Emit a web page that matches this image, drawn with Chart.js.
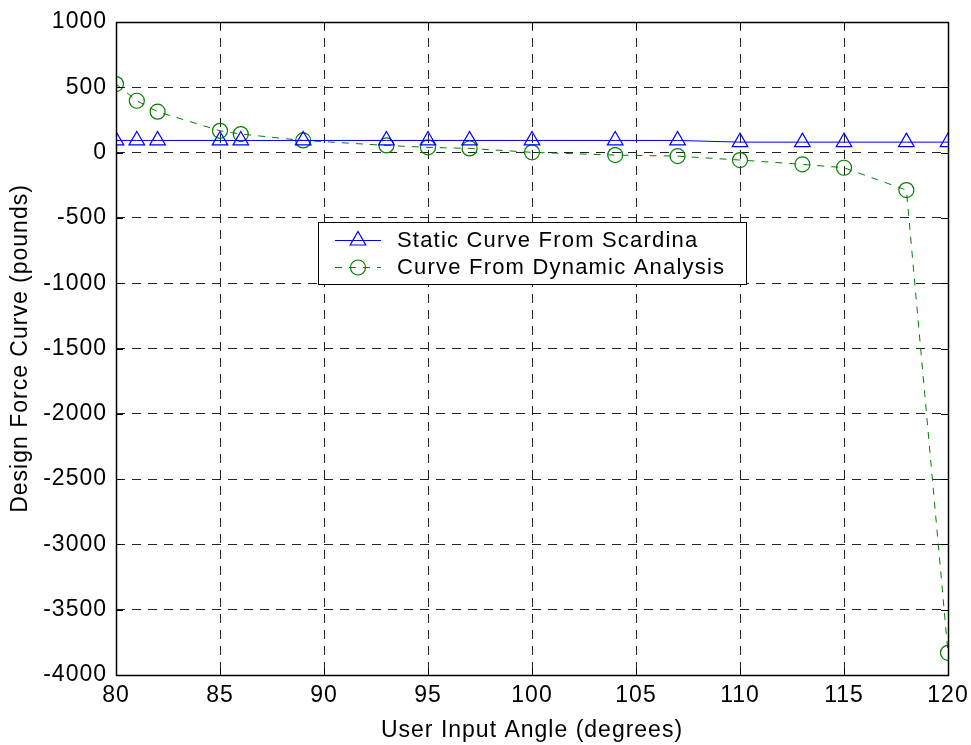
<!DOCTYPE html>
<html>
<head>
<meta charset="utf-8">
<script src="https://cdn.jsdelivr.net/npm/chart.js@4.4.0/dist/chart.umd.min.js"></script>
<style>
  html, body { margin: 0; padding: 0; background: #fff; }
  #wrap { width: 971px; height: 745px; }
</style>
</head>
<body>
<div id="wrap"><canvas id="c" width="971" height="745"></canvas></div>
<script>
const staticAngles = [80, 81, 82, 85, 86, 89, 93, 95, 97, 100, 104, 107, 110, 113, 115, 118, 120];
const staticForce  = [93, 93, 93, 93, 93, 93, 93, 93, 93, 93, 93, 93, 80, 80, 80, 80, 80];
const dynamicAngles = [80, 81, 82, 85, 86, 89, 93, 95, 97, 100, 104, 107, 110, 113, 115, 118, 120];
const dynamicForce  = [525, 397, 313, 167, 142, 93, 55, 40, 32, 2, -19, -27, -57, -90, -116, -287, -3830];
const xTicks = [80, 85, 90, 95, 100, 105, 110, 115, 120];
const yTicks = [1000, 500, 0, -500, -1000, -1500, -2000, -2500, -3000, -3500, -4000];
const seriesNames = ['Static Curve From Scardina', 'Curve From Dynamic Analysis'];

const FONT = 'Liberation Sans, Arial, Helvetica, sans-serif';

function toPts(xs, ys) { return xs.map((x, i) => ({ x: x, y: ys[i] })); }

const spacingPlugin = {
  id: 'spacing',
  beforeUpdate(chart) { chart.ctx.letterSpacing = '1px'; },
  beforeLayout(chart) { chart.ctx.letterSpacing = '1px'; },
  beforeDraw(chart) { chart.ctx.letterSpacing = '1px'; }
};

const framePlugin = {
  id: 'frame',
  afterDatasetsDraw(chart) {
    const { ctx, chartArea: a, scales } = chart;
    ctx.save();
    ctx.setLineDash([]);
    ctx.strokeStyle = '#000';
    ctx.lineWidth = 1;
    ctx.beginPath();
    xTicks.forEach(v => {
      const px = Math.round(scales.x.getPixelForValue(v)) + 0.5;
      ctx.moveTo(px, a.bottom); ctx.lineTo(px, a.bottom - 7);
      ctx.moveTo(px, a.top); ctx.lineTo(px, a.top + 7);
    });
    yTicks.forEach(v => {
      const py = Math.round(scales.y.getPixelForValue(v)) + 0.5;
      ctx.moveTo(a.left, py); ctx.lineTo(a.left + 7, py);
      ctx.moveTo(a.right, py); ctx.lineTo(a.right - 7, py);
    });
    ctx.stroke();
    ctx.lineWidth = 1.5;
    ctx.strokeRect(Math.round(a.left) + 0.5, Math.round(a.top) + 0.5,
      Math.round(a.right - a.left), Math.round(a.bottom - a.top));
    ctx.restore();
  },
  afterDraw(chart) {
    const { ctx } = chart;
    const ds = chart.data.datasets;
    ctx.save();
    ctx.letterSpacing = '1.2px';
    const bx = 318.5, by = 222.5, bw = 428, bh = 62;
    ctx.fillStyle = '#fff';
    ctx.fillRect(bx, by, bw, bh);
    ctx.strokeStyle = '#000';
    ctx.lineWidth = 1;
    ctx.setLineDash([]);
    ctx.strokeRect(bx, by, bw, bh);
    const rows = [240, 267];
    rows.forEach((ry, i) => {
      const d = ds[i];
      ctx.save();
      ctx.strokeStyle = d.borderColor;
      ctx.fillStyle = 'rgba(0,0,0,0)';
      ctx.lineWidth = 1;
      ctx.setLineDash(d.borderDash || []);
      ctx.beginPath();
      ctx.moveTo(335, ry + 0.5); ctx.lineTo(381, ry + 0.5);
      ctx.stroke();
      ctx.setLineDash([]);
      ctx.lineWidth = 1.2;
      Chart.helpers.drawPoint(ctx, {
        pointStyle: d.pointStyle, radius: d.pointRadius, borderWidth: 1.2, rotation: 0
      }, 358, ry + 0.5);
      ctx.restore();
      ctx.fillStyle = '#000';
      ctx.font = '22px ' + FONT;
      ctx.textBaseline = 'middle';
      ctx.textAlign = 'left';
      ctx.fillText(seriesNames[i], 397, ry + 1);
    });
    ctx.restore();
  }
};

const chart = new Chart(document.getElementById('c'), {
  type: 'scatter',
  data: {
    datasets: [
      {
        label: seriesNames[0],
        data: toPts(staticAngles, staticForce),
        showLine: true,
        borderColor: '#0000ff',
        backgroundColor: 'rgba(0,0,0,0)',
        borderWidth: 1,
        pointStyle: 'triangle',
        pointRadius: 9,
        pointBorderColor: '#0000ff',
        pointBackgroundColor: 'rgba(0,0,0,0)',
        pointBorderWidth: 1.2,
        tension: 0
      },
      {
        label: seriesNames[1],
        data: toPts(dynamicAngles, dynamicForce),
        showLine: true,
        borderColor: '#008000',
        backgroundColor: 'rgba(0,0,0,0)',
        borderWidth: 1,
        borderDash: [7, 7],
        pointStyle: 'circle',
        pointRadius: 7.5,
        pointBorderColor: '#008000',
        pointBackgroundColor: 'rgba(0,0,0,0)',
        pointBorderWidth: 1.2,
        tension: 0
      }
    ]
  },
  options: {
    responsive: false,
    animation: false,
    devicePixelRatio: 1,
    layout: { padding: { top: 22, right: 23, left: 0, bottom: 0 } },
    plugins: { legend: { display: false }, tooltip: { enabled: false } },
    elements: { point: { hoverRadius: 7.5 } },
    scales: {
      x: {
        type: 'linear',
        min: 80, max: 120,
        afterBuildTicks(s) { s.ticks = xTicks.map(v => ({ value: v })); },
        afterFit(s) { s.height = 70; s.paddingLeft = 0; s.paddingRight = 0; },
        ticks: { color: '#000', font: { family: FONT, size: 23 }, padding: 7, maxRotation: 0,
                 callback: v => String(v) },
        grid: { color: '#222', lineWidth: 1, drawTicks: false },
        border: { display: false, dash: [9, 7] },
        title: { display: true, text: 'User Input Angle (degrees)', color: '#000',
                 font: { family: FONT, size: 23 }, padding: { top: 0, bottom: 1 } }
      },
      y: {
        type: 'linear',
        min: -4000, max: 1000,
        afterBuildTicks(s) { s.ticks = yTicks.map(v => ({ value: v })); },
        afterFit(s) { s.width = 116; s.paddingTop = 0; s.paddingBottom = 0; },
        ticks: { color: '#000', font: { family: FONT, size: 23 }, padding: 9,
                 callback: v => String(v) },
        grid: { color: '#222', lineWidth: 1, drawTicks: false },
        border: { display: false, dash: [9, 7] },
        title: { display: true, text: 'Design Force Curve (pounds)', color: '#000',
                 font: { family: FONT, size: 23 }, padding: { top: 7, bottom: 0 } }
      }
    }
  },
  plugins: [spacingPlugin, framePlugin]
});
</script>
</body>
</html>
